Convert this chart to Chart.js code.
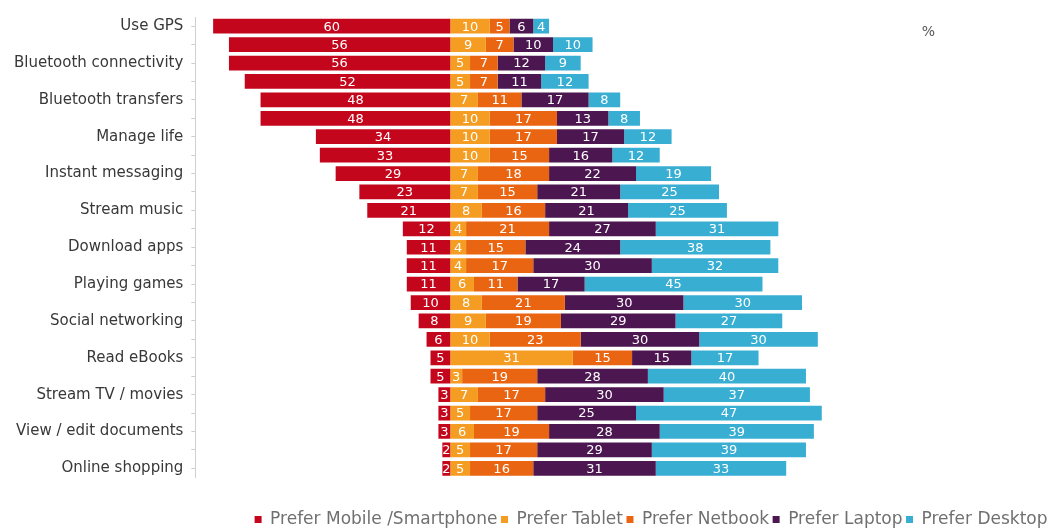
<!DOCTYPE html>
<html>
<head>
<meta charset="utf-8">
<script src="https://cdn.jsdelivr.net/npm/chart.js@4/dist/chart.umd.min.js"></script>
<style>
html,body{margin:0;padding:0;background:#fff;}
#wrap{width:1052px;height:529px;position:relative;}
</style>
</head>
<body>
<div id="wrap"><canvas id="c"></canvas></div>
<script>
// Categories (only every other row is labelled in the original)
const categories = [
  "Use GPS", "", "Bluetooth connectivity", "", "Bluetooth transfers", "",
  "Manage life", "", "Instant messaging", "", "Stream music", "",
  "Download apps", "", "Playing games", "", "Social networking", "",
  "Read eBooks", "", "Stream TV / movies", "", "View / edit documents", "",
  "Online shopping"
];
// Series values (%)
const mobile  = [60,56,56,52,48,48,34,33,29,23,21,12,11,11,11,10,8,6,5,5,3,3,3,2,2];
const tablet  = [10,9,5,5,7,10,10,10,7,7,8,4,4,4,6,8,9,10,31,3,7,5,6,5,5];
const netbook = [5,7,7,7,11,17,17,15,18,15,16,21,15,17,11,21,19,23,15,19,17,17,19,17,16];
const laptop  = [6,10,12,11,17,13,17,16,22,21,21,27,24,30,17,30,29,30,15,28,30,25,28,29,31];
const desktop = [4,10,9,12,8,8,12,12,19,25,25,31,38,32,45,30,27,30,17,40,37,47,39,39,33];
const seriesNames = ["Prefer Mobile /Smartphone","Prefer Tablet","Prefer Netbook","Prefer Laptop","Prefer Desktop"];
const seriesColors = ["#c4061c","#f59d22","#ea6512","#4c1650","#38aed3"];

const FONT = '"DejaVu Sans", Verdana, sans-serif';

const valueLabels = {
  id: 'valueLabels',
  afterDatasetsDraw(chart) {
    const ctx = chart.ctx;
    ctx.save();
    ctx.font = '13px ' + FONT;
    ctx.fillStyle = '#ffffff';
    ctx.textAlign = 'center';
    ctx.textBaseline = 'middle';
    chart.data.datasets.forEach((ds, di) => {
      const meta = chart.getDatasetMeta(di);
      meta.data.forEach((bar, i) => {
        const v = ds.data[i];
        if (!v) return;
        const p = bar.getProps(['x','y','base'], true);
        ctx.fillText(String(Math.abs(v)), (p.x + p.base) / 2, p.y + 1);
      });
    });
    // "%" note
    const xs = chart.scales.x;
    ctx.fillStyle = '#555';
    ctx.font = '14px ' + FONT;
    ctx.fillText('%', xs.getPixelForValue(121), chart.chartArea.top + 15);
    ctx.restore();
  }
};

const datasets = [mobile.map(v => -v), tablet, netbook, laptop, desktop].map((d, i) => ({
  label: seriesNames[i],
  data: d,
  backgroundColor: seriesColors[i],
  borderWidth: 0,
  barPercentage: 0.8,
  categoryPercentage: 1.0
}));

new Chart(document.getElementById('c'), {
  type: 'bar',
  data: { labels: categories, datasets },
  options: {
    indexAxis: 'y',
    responsive: true,
    maintainAspectRatio: false,
    animation: false,
    layout: { padding: { left: 6, top: 15, right: 1, bottom: -9 } },
    scales: {
      x: {
        stacked: true, min: -64.5, max: 152,
        display: true,
        ticks: { display: false },
        grid: { display: false },
        border: { display: false },
        afterFit(scale) { scale.height = 30; }
      },
      y: {
        stacked: true,
        border: { display: true, color: '#cfcfcf' },
        grid: { display: true, drawOnChartArea: false, tickLength: 4, color: '#cfcfcf', offset: false },
        ticks: {
          autoSkip: false,
          color: '#383838',
          padding: 8,
          font: { family: FONT, size: 15 }
        }
      }
    },
    plugins: {
      legend: {
        position: 'bottom',
        align: 'end',
        labels: {
          boxWidth: 7, boxHeight: 7, padding: 3.5,
          color: '#707070',
          font: { family: FONT, size: 17, lineHeight: 1.0 }
        }
      },
      tooltip: { enabled: false }
    }
  },
  plugins: [valueLabels]
});
</script>
</body>
</html>
